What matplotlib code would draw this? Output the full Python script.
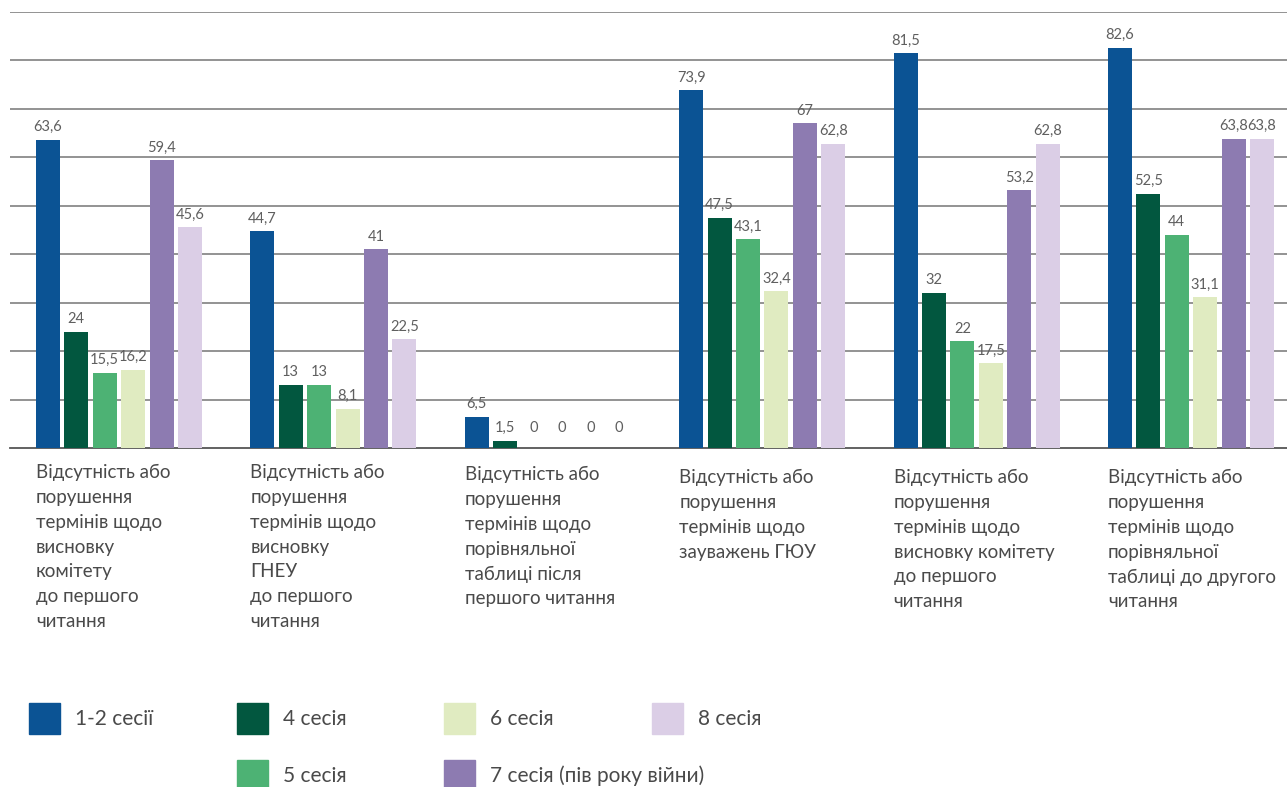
import matplotlib
matplotlib.use("Agg")
import matplotlib.pyplot as plt
import numpy as np

categories = [
    "Відсутність або\nпорушення\nтермінів щодо\nвисновку\nкомітету\nдо першого\nчитання",
    "Відсутність або\nпорушення\nтермінів щодо\nвисновку\nГНЕУ\nдо першого\nчитання",
    "Відсутність або\nпорушення\nтермінів щодо\nпорівняльної\nтаблиці після\nпершого читання",
    "Відсутність або\nпорушення\nтермінів щодо\nзауважень ГЮУ",
    "Відсутність або\nпорушення\nтермінів щодо\nвисновку комітету\nдо першого\nчитання",
    "Відсутність або\nпорушення\nтермінів щодо\nпорівняльної\nтаблиці до другого\nчитання",
]
series_names = ["1-2 сесії", "4 сесія", "5 сесія", "6 сесія", "7 сесія (пів року війни)", "8 сесія"]
s12 = [63.6, 44.7, 6.5, 73.9, 81.5, 82.6]
s4 = [24, 13, 1.5, 47.5, 32, 52.5]
s5 = [15.5, 13, 0, 43.1, 22, 44]
s6 = [16.2, 8.1, 0, 32.4, 17.5, 31.1]
s7 = [59.4, 41, 0, 67, 53.2, 63.8]
s8 = [45.6, 22.5, 0, 62.8, 62.8, 63.8]
series = [s12, s4, s5, s6, s7, s8]
colors = ["#0B5394", "#02573F", "#4DB274", "#E0EBC1", "#8D7BB1", "#DBCEE6"]

FONT = ["Lato", "DejaVu Sans"]
plt.rcParams['font.family'] = FONT

W, H = 1287, 787
fig = plt.figure(figsize=(W / 100, H / 100), dpi=100)
ax = fig.add_axes([10 / W, 1 - 448 / H, 1 - 10 / W, (448 - 12) / H])

step = 28.4 / 214.4
bw = 24 / 214.4
x = np.arange(len(categories))
for i, (vals, c) in enumerate(zip(series, colors)):
    pos = x + (i - 2.5) * step
    ax.bar(pos, vals, width=bw, color=c, zorder=3)
    for p, v in zip(pos, vals):
        lab = f"{v:g}".replace(".", ",")
        off = 9 if v == 0 else 4
        ax.annotate(lab, (p, v), xytext=(0, off), textcoords="offset points",
                    ha="center", va="bottom", fontsize=10.5, color="#5f5f5f",
                    zorder=4)

ax.set_xlim(-0.508, 5.448)
ax.set_ylim(0, 90)
ax.set_yticks(np.arange(10, 91, 10))
ax.yaxis.grid(True, color="#8a8a8a", linewidth=1.3, zorder=0)
ax.set_axisbelow(True)
ax.set_xticks([])
ax.tick_params(left=False, labelleft=False)
for s in ["left", "right", "top"]:
    ax.spines[s].set_visible(False)
ax.spines["bottom"].set_color("#555555")
ax.spines["bottom"].set_linewidth(1.3)

text_tops = [464, 464, 466, 469, 469, 469]
for i, cat in enumerate(categories):
    xl = i - 2.5 * step - bw / 2
    xf = ax.transData.transform((xl, 0))[0] / W
    fig.text(xf, 1 - text_tops[i] / H, cat, ha="left", va="top", fontsize=13.5,
             color="#4a4a4a", linespacing=1.56)

# legend
leg_items = [
    (0, 29, 703), (1, 237, 703), (3, 444, 703), (5, 652, 703),
    (2, 237, 760), (4, 444, 760),
]
for idx, lx, ly in leg_items:
    fig.patches.append(plt.Rectangle((lx / W, 1 - (ly + 31) / H), 31 / W, 31 / H,
                                     transform=fig.transFigure, color=colors[idx]))
    fig.text((lx + 46) / W, 1 - (ly + 16) / H, series_names[idx], ha="left", va="center",
             fontsize=15, color="#4a4a4a")

fig.savefig("out.png", dpi=100)
